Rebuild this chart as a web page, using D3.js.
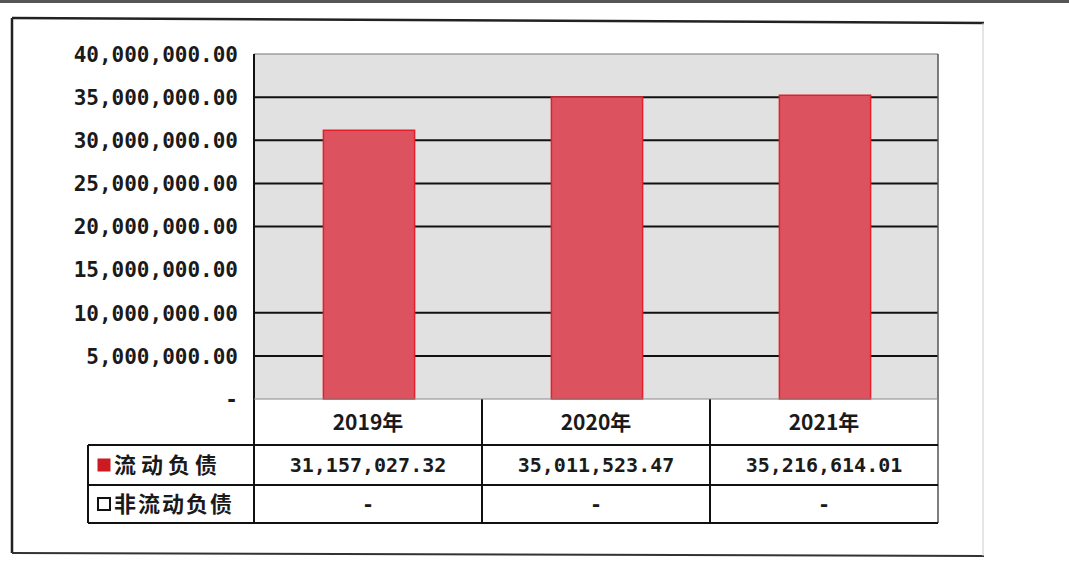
<!DOCTYPE html>
<html><head><meta charset="utf-8">
<script src="https://cdn.jsdelivr.net/npm/d3@7"></script>
<style>
html,body{margin:0;padding:0;background:#fff;}
svg{display:block;}
</style></head>
<body>
<svg id="chart" width="1069" height="563"></svg>
<script>
const categories = ["2019年", "2020年", "2021年"];
const seriesNames = ["流动负债", "非流动负债"];
const currentLiabilities = [31157027.32, 35011523.47, 35216614.01];
const nonCurrentLiabilities = [null, null, null];
const yTicks = [0, 5000000, 10000000, 15000000, 20000000, 25000000, 30000000, 35000000, 40000000];
// gridlines visible in the reference (the 15,000,000 one is not printed)
const gridValues = [5000000, 10000000, 20000000, 25000000, 30000000, 35000000];

const svg = d3.select("#chart");
const numFont = "'DejaVu Sans Mono', monospace";
const cjkFont = "'Noto Sans CJK SC', sans-serif";

const L = 254, R = 938, T = 54, B = 399;
const rowBottoms = [445, 485, 523];
const tableLeft = 88;

// scan edge at top
svg.append("rect").attr("x", 0).attr("y", 0).attr("width", 1069).attr("height", 3).attr("fill", "#555");

// outer chart border
svg.append("line").attr("x1", 12).attr("y1", 18).attr("x2", 984).attr("y2", 23).attr("stroke", "#222").attr("stroke-width", 2.5);
svg.append("line").attr("x1", 12).attr("y1", 18).attr("x2", 12).attr("y2", 553).attr("stroke", "#222").attr("stroke-width", 2.5);
svg.append("line").attr("x1", 12).attr("y1", 553).attr("x2", 984).attr("y2", 556).attr("stroke", "#333").attr("stroke-width", 2);
svg.append("line").attr("x1", 983).attr("y1", 23).attr("x2", 983).attr("y2", 556).attr("stroke", "#ccc").attr("stroke-width", 1);

const x = d3.scaleBand().domain(categories).range([L, R]).paddingInner(0).paddingOuter(0);
const y = d3.scaleLinear().domain([0, 40000000]).range([B, T]);

// plot background
svg.append("rect").attr("x", L).attr("y", T).attr("width", R - L).attr("height", B - T).attr("fill", "#e1e1e1");
svg.append("line").attr("x1", L).attr("x2", R).attr("y1", T).attr("y2", T).attr("stroke", "#777").attr("stroke-width", 1.2);

// gridlines
svg.append("g").attr("class", "grid").selectAll("line").data(gridValues).join("line")
  .attr("x1", L).attr("x2", R).attr("y1", d => y(d)).attr("y2", d => y(d))
  .attr("stroke", "#111").attr("stroke-width", 2);

// bars
const bw = x.bandwidth() * 0.4;
svg.append("g").selectAll("rect").data(currentLiabilities).join("rect")
  .attr("x", (d, i) => x(categories[i]) + x.bandwidth() / 2 - bw / 2 + 1)
  .attr("width", bw)
  .attr("y", d => y(d))
  .attr("height", d => y(0) - y(d))
  .attr("fill", "#dc535f")
  .attr("stroke", "#e3202c").attr("stroke-width", 1.5);

// y axis
const yAxis = d3.axisLeft(y).tickValues(yTicks).tickSize(0).tickPadding(16)
  .tickFormat(d => d === 0 ? "-" : d3.format(",.2f")(d));
const ya = svg.append("g").attr("transform", `translate(${L},0)`).call(yAxis);
ya.select(".domain").remove();
ya.selectAll(".tick line").remove();
ya.selectAll("text").attr("font-family", numFont).attr("font-weight", "bold")
  .attr("font-size", 21).attr("fill", "#1a1a1a").attr("dy", "0.35em");

// axis line + table lines
const lineAttr = sel => sel.attr("stroke", "#111").attr("stroke-width", 2);
svg.append("line").attr("x1", L).attr("x2", L).attr("y1", T).attr("y2", rowBottoms[2]).call(lineAttr);
svg.append("line").attr("x1", R).attr("x2", R).attr("y1", T).attr("y2", rowBottoms[2]).attr("stroke", "#555").attr("stroke-width", 1.5);
categories.forEach((c, i) => {
  if (i > 0) svg.append("line").attr("x1", x(c)).attr("x2", x(c)).attr("y1", B).attr("y2", rowBottoms[2]).call(lineAttr);
});
svg.append("line").attr("x1", L).attr("x2", R).attr("y1", B).attr("y2", B).attr("stroke", "#888").attr("stroke-width", 1);
rowBottoms.forEach(rb => {
  svg.append("line").attr("x1", tableLeft).attr("x2", R).attr("y1", rb).attr("y2", rb).call(lineAttr);
});
svg.append("line").attr("x1", tableLeft).attr("x2", tableLeft).attr("y1", rowBottoms[0]).attr("y2", rowBottoms[2]).call(lineAttr);

// category header labels
svg.append("g").selectAll("text").data(categories).join("text")
  .attr("x", d => x(d) + x.bandwidth() / 2)
  .attr("y", (B + rowBottoms[0]) / 2 + 8)
  .attr("text-anchor", "middle")
  .attr("font-family", cjkFont).attr("font-size", 21).attr("font-weight", "bold").attr("fill", "#1a1a1a")
  .text(d => d);

// data rows
const rows = [currentLiabilities, nonCurrentLiabilities];
rows.forEach((vals, r) => {
  const top = r === 0 ? rowBottoms[0] : rowBottoms[1];
  const bot = rowBottoms[r + 1];
  const cy = (top + bot) / 2;
  svg.append("g").selectAll("text").data(vals).join("text")
    .attr("x", (d, i) => x(categories[i]) + x.bandwidth() / 2)
    .attr("y", cy + 7)
    .attr("text-anchor", "middle")
    .attr("font-family", numFont).attr("font-weight", "bold").attr("font-size", 20).attr("fill", "#1a1a1a")
    .text(d => d == null ? "-" : d3.format(",.2f")(d));
  // legend key
  const key = svg.append("rect").attr("x", 98).attr("y", cy - 6).attr("width", 12).attr("height", 12);
  if (r === 0) key.attr("fill", "#cc1a22").attr("stroke", "#cc1a22");
  else key.attr("fill", "#fff").attr("stroke", "#111").attr("stroke-width", 2);
  svg.append("text").attr("x", 114).attr("y", cy + 8)
    .attr("font-family", cjkFont).attr("font-size", 22).attr("font-weight", "bold")
    .attr("letter-spacing", r === 0 ? 5 : 2).attr("fill", "#1a1a1a")
    .text(seriesNames[r]);
});
</script>
</body></html>
